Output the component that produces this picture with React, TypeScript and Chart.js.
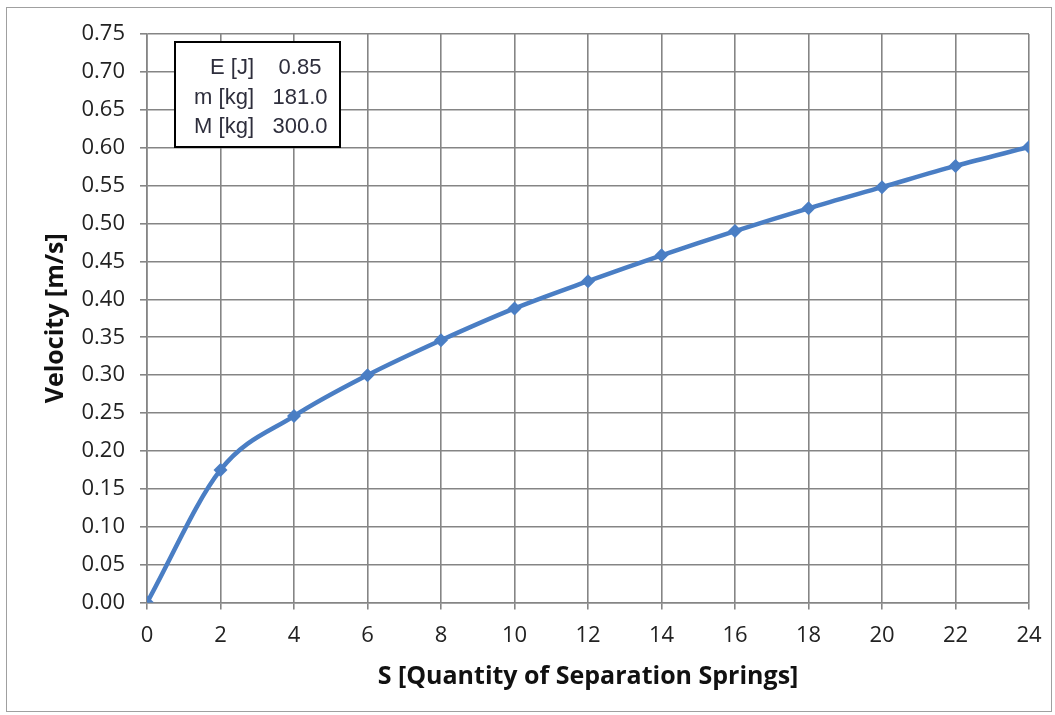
import React, { useEffect, useRef } from "react";
import { Chart, registerables } from "chart.js";

Chart.register(...registerables);

const springs = [0, 2, 4, 6, 8, 10, 12, 14, 16, 18, 20, 22, 24];
const velocity = [0, 0.175, 0.246, 0.3, 0.346, 0.388, 0.424, 0.458, 0.49, 0.52, 0.548, 0.576, 0.601];
const infoLabels = ["E [J]", "m [kg]", "M [kg]"];
const infoValues = ["0.85", "181.0", "300.0"];
const xTitle = "S [Quantity of Separation Springs]";
const yTitle = "Velocity [m/s]";

const infoBox = {
  id: "infoBox",
  afterDraw(chart: any) {
    const ctx = chart.ctx;
    const a = chart.chartArea;
    const x0 = a.left + 28;
    const y0 = a.top + 8;
    const w = 165;
    const h = 105;
    ctx.save();
    ctx.fillStyle = "#ffffff";
    ctx.fillRect(x0, y0, w, h);
    ctx.strokeStyle = "#000000";
    ctx.lineWidth = 2;
    ctx.strokeRect(x0, y0, w, h);
    ctx.font = "22px 'Liberation Sans', Arial, sans-serif";
    ctx.fillStyle = "#2e2e3c";
    ctx.textBaseline = "middle";
    for (let i = 0; i < infoLabels.length; i++) {
      const ty = y0 + 26 + i * 29.5;
      ctx.textAlign = "right";
      ctx.fillText(infoLabels[i], x0 + 79, ty);
      ctx.textAlign = "center";
      ctx.fillText(infoValues[i], x0 + 125, ty);
    }
    ctx.restore();
  },
};

const frame = {
  id: "frame",
  beforeDraw(chart: any) {
    const ctx = chart.ctx;
    ctx.save();
    ctx.fillStyle = "#ffffff";
    ctx.fillRect(0, 0, chart.width, chart.height);
    ctx.strokeStyle = "#a0a0a0";
    ctx.lineWidth = 1;
    ctx.strokeRect(6.5, 7.5, chart.width - 10, chart.height - 11);
    ctx.restore();
  },
};

export default function App() {
  const ref = useRef<HTMLCanvasElement>(null);
  useEffect(() => {
    if (!ref.current) return;
    const tickFont = { family: "'Open Sans', sans-serif", size: 22 };
    const titleFont = { family: "'Open Sans', sans-serif", size: 25, weight: "bold" as const };
    const chart = new Chart(ref.current, {
      type: "line",
      data: {
        datasets: [
          {
            data: springs.map((s, i) => ({ x: s, y: velocity[i] })),
            borderColor: "#4a7ec4",
            backgroundColor: "#4a7ec4",
            borderWidth: 4.5,
            pointStyle: "rectRot",
            pointRadius: 7,
            pointBorderWidth: 0,
            cubicInterpolationMode: "monotone",
            fill: false,
          },
        ],
      },
      options: {
        animation: false,
        responsive: false,
        layout: { padding: { left: 41, right: 26, top: 34, bottom: 23 } },
        plugins: { legend: { display: false }, tooltip: { enabled: false } },
        scales: {
          x: {
            type: "linear",
            min: 0,
            max: 24,
            grid: { color: "#858585", lineWidth: 1.6, tickLength: 7 },
            border: { color: "#858585", width: 1.6 },
            ticks: {
              stepSize: 2,
              color: "#222",
              font: tickFont,
              padding: 13,
              maxRotation: 0,
            },
            title: {
              display: true,
              text: xTitle,
              color: "#111",
              font: titleFont,
              padding: { top: 0, bottom: 0 },
            },
          },
          y: {
            type: "linear",
            min: 0,
            max: 0.75,
            afterFit: (scale: any) => {
              scale.width = 106;
            },
            grid: { color: "#858585", lineWidth: 1.6, tickLength: 7 },
            border: { color: "#858585", width: 1.6 },
            ticks: {
              stepSize: 0.05,
              color: "#222",
              font: tickFont,
              padding: 15,
              callback: (v: any) => Number(v).toFixed(2),
            },
            title: {
              display: true,
              text: yTitle,
              color: "#111",
              font: titleFont,
              padding: { top: 0, bottom: 0 },
            },
          },
        },
      },
      plugins: [frame, infoBox],
    });
    return () => chart.destroy();
  }, []);
  return (
    <div style={{ position: "absolute", left: 0, top: 0, width: 1055, height: 715 }}>
      <canvas ref={ref} width={1055} height={715} style={{ display: "block" }} />
    </div>
  );
}
